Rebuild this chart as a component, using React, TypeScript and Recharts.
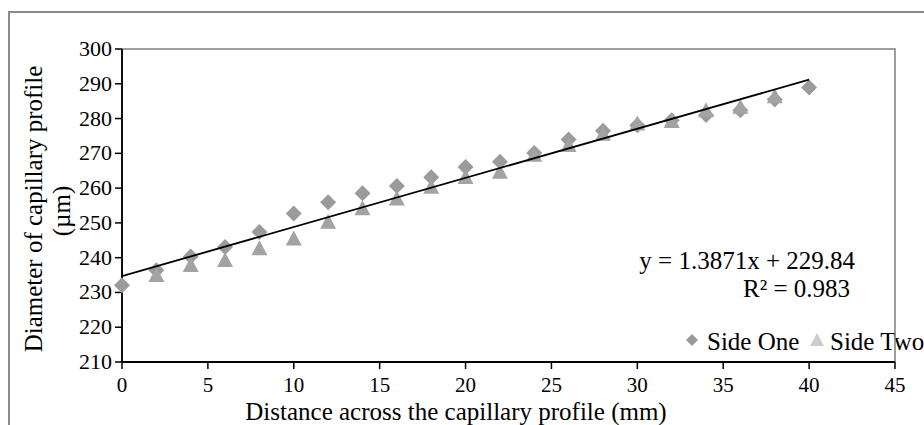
import { ReferenceArea, Scatter, ScatterChart, XAxis, YAxis } from "recharts";

const FONT = '"Liberation Serif", "Times New Roman", serif';

// distance across the profile (mm)
const sideOneDistance = [0, 2, 4, 6, 8, 10, 12, 14, 16, 18, 20, 22, 24, 26, 28, 30, 32, 34, 36, 38, 40];
const sideOneDiameter = [
  232.1, 236.4, 240.3, 243.1, 247.4, 252.7, 255.9, 258.5, 260.6, 263.1, 266.1,
  267.6, 270.1, 274.0, 276.5, 278.1, 279.5, 281.0, 282.4, 285.5, 288.9,
];

const sideTwoDistance = [2, 4, 6, 8, 10, 12, 14, 16, 18, 20, 22, 24, 26, 28, 30, 32, 34, 36, 38];
const sideTwoDiameter = [
  235.0, 237.9, 239.3, 242.7, 245.5, 250.3, 254.2, 257.0, 260.4, 263.2, 264.7,
  269.6, 272.4, 275.6, 278.6, 279.3, 282.4, 283.4, 286.4,
];

// linear trendline as drawn
const trendDistance = [0, 40];
const trendDiameter = [234.7, 291.2];

const xTicks = [0, 5, 10, 15, 20, 25, 30, 35, 40, 45];
const yTicks = [210, 220, 230, 240, 250, 260, 270, 280, 290, 300];

const sideOne = sideOneDistance.map((x, i) => ({ x, y: sideOneDiameter[i] }));
const sideTwo = sideTwoDistance.map((x, i) => ({ x, y: sideTwoDiameter[i] }));
const trend = trendDistance.map((x, i) => ({ x, y: trendDiameter[i] }));

function Diamond(props: any) {
  const { cx, cy } = props;
  if (cx == null || cy == null) return <g />;
  return (
    <polygon
      points={`${cx},${cy - 8} ${cx + 8},${cy} ${cx},${cy + 8} ${cx - 8},${cy}`}
      fill="#9b9b9b"
    />
  );
}

function Triangle(props: any) {
  const { cx, cy } = props;
  if (cx == null || cy == null) return <g />;
  return (
    <polygon
      points={`${cx},${cy - 8} ${cx + 8},${cy + 7} ${cx - 8},${cy + 7}`}
      fill="#a3a3a3"
    />
  );
}

const renderXTick = (props: any) => {
  const { x, y, payload } = props;
  return (
    <text
      x={x}
      y={y}
      dy={16}
      textAnchor="middle"
      style={{ fontFamily: FONT, fontSize: 21 }}
      fill="#000"
    >
      {payload.value}
    </text>
  );
};

const renderYTick = (props: any) => {
  const { x, y, payload } = props;
  return (
    <text
      x={x}
      y={y}
      dy={7}
      textAnchor="end"
      style={{ fontFamily: FONT, fontSize: 22 }}
      fill="#000"
    >
      {payload.value}
    </text>
  );
};

export default function App() {
  return (
    <div
      style={{
        position: "absolute",
        left: 0,
        top: 0,
        width: 924,
        height: 425,
        overflow: "hidden",
        background: "#fff",
        fontFamily: FONT,
      }}
    >
      <div
        style={{
          position: "absolute",
          left: 8,
          top: 11,
          width: 940,
          height: 440,
          border: "2px solid #8a8a8a",
        }}
      />
      <div style={{ position: "absolute", left: 0, top: 0 }}>
        <ScatterChart
          width={924}
          height={425}
          margin={{ top: 49, right: 29, bottom: 0, left: 0 }}
          style={{ fontFamily: FONT }}
        >
          <ReferenceArea
            x1={0}
            x2={45}
            y1={210}
            y2={300}
            fill="none"
            stroke="#7f7f7f"
            strokeWidth={1.5}
          />
          <XAxis
            type="number"
            dataKey="x"
            domain={[0, 45]}
            ticks={xTicks}
            interval={0}
            height={63}
            axisLine={{ stroke: "#000", strokeWidth: 1.8 }}
            tickLine={{ stroke: "#000", strokeWidth: 1.5 }}
            tickSize={7}
            tickMargin={7}
            tick={renderXTick}
          />
          <YAxis
            type="number"
            dataKey="y"
            domain={[210, 300]}
            ticks={yTicks}
            interval={0}
            width={122}
            axisLine={{ stroke: "#000", strokeWidth: 1.8 }}
            tickLine={{ stroke: "#000", strokeWidth: 1.5 }}
            tickSize={7}
            tickMargin={3}
            tick={renderYTick}
          />
          <Scatter
            name="Side One"
            data={sideOne}
            shape={<Diamond />}
            isAnimationActive={false}
          />
          <Scatter
            name="Side Two"
            data={sideTwo}
            shape={<Triangle />}
            isAnimationActive={false}
          />
          <Scatter
            name="Linear"
            data={trend}
            shape={() => <g />}
            line={{ stroke: "#000", strokeWidth: 1.8 }}
            lineType="joint"
            isAnimationActive={false}
          />
          <g fontFamily={FONT} fill="#000">
            <text
              x={0}
              y={0}
              transform="translate(33,209) rotate(-90)"
              textAnchor="middle"
              dominantBaseline="central"
              fontSize={25}
            >
              Diameter of capillary profile
            </text>
            <text
              x={0}
              y={0}
              transform="translate(61,211) rotate(-90)"
              textAnchor="middle"
              dominantBaseline="central"
              fontSize={25}
            >
              (µm)
            </text>
            <text
              x={456}
              y={411}
              textAnchor="middle"
              dominantBaseline="central"
              fontSize={25}
            >
              Distance across the capillary profile (mm)
            </text>
            <text
              x={855}
              y={260}
              textAnchor="end"
              dominantBaseline="central"
              fontSize={25}
            >
              y = 1.3871x + 229.84
            </text>
            <text
              x={850}
              y={288}
              textAnchor="end"
              dominantBaseline="central"
              fontSize={25}
            >
              R² = 0.983
            </text>
            <polygon points="692,334 698,340 692,346 686,340" fill="#999999" />
            <text x={707} y={341} dominantBaseline="central" fontSize={25}>
              Side One
            </text>
            <polygon points="817,333 824,346 810,346" fill="#cdcdcd" />
            <text x={830} y={341} dominantBaseline="central" fontSize={25}>
              Side Two
            </text>
          </g>
        </ScatterChart>
      </div>
    </div>
  );
}
